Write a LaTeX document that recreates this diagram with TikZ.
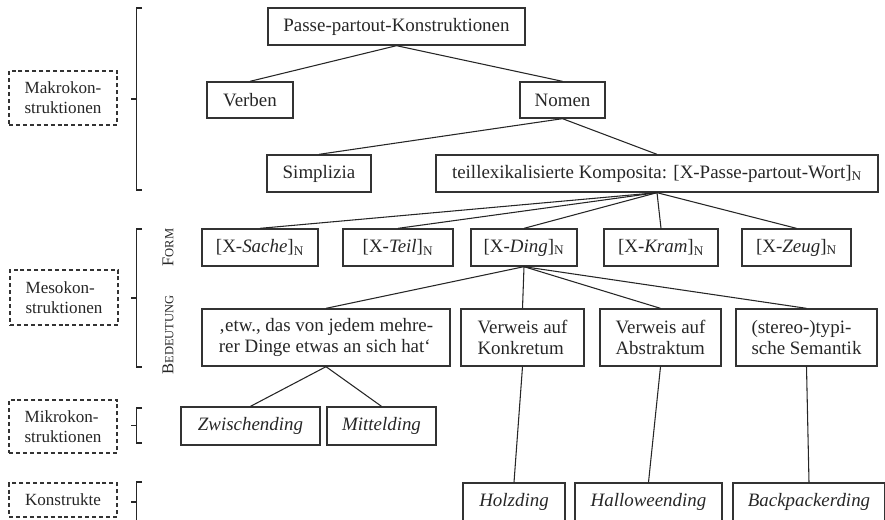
\documentclass[tikz,border=0pt]{standalone}
\usepackage{fontspec}
\setmainfont{Liberation Serif}
\newcommand{\fakesc}[2]{#1{\fontsize{9.4}{10}\selectfont #2}}

\begin{document}
\begin{tikzpicture}[x=0.75pt,y=-0.75pt,
  every node/.style={text=black!85},
  sz/.style 2 args={minimum width=#1*0.75pt,minimum height=#2*0.75pt},
  box/.style={draw=black!80,line width=1pt,inner sep=0pt,align=left,
    font=\fontsize{14.2}{15.5}\selectfont},
  levelbox/.style={draw=black!80,line width=0.9pt,dash pattern=on 3pt off 2.2pt,
    inner sep=0pt,align=left,font=\fontsize{12.8}{15}\selectfont},
  edge/.style={draw=black!85,line width=0.8pt},
  bracket/.style={draw=black!85,line width=0.8pt}]
  \useasboundingbox (0,0) rectangle (885,519);

  % Ebenen links
  \node[levelbox,sz={108}{54}] (makro) at (63,98) {Makrokon-\\struktionen};
  \node[levelbox,sz={108}{55}] (meso) at (64,297.5) {Mesokon-\\struktionen};
  \node[levelbox,sz={108}{53}] (mikro) at (63,426.5) {Mikrokon-\\struktionen};
  \node[levelbox,sz={108}{34}] (konstr) at (63,500) {Konstrukte};
  \foreach \t/\b in {8/190,229/367,408/443,482/522}{
    \draw[bracket] (142,\t) -- (136.5,\t) -- (136.5,\b) -- (142,\b);
    \draw[bracket,line width=1.3pt] (131,{(\t+\b)/2}) -- (136.5,{(\t+\b)/2});
  }
  \node[rotate=90,font=\fontsize{12.4}{14}\selectfont] (form) at (168,247.5) {\fakesc{F}{ORM}};
  \node[rotate=90,font=\fontsize{12.4}{14}\selectfont] (bed) at (168,335) {\fakesc{B}{EDEUTUNG}};

  % Makro
  \node[box,sz={257}{37}] (pp) at (396.5,26.5) {Passe-partout-Konstruktionen};
  \node[box,sz={86}{36}] (verben) at (250,100) {Verben};
  \node[box,sz={85}{36}] (nomen) at (562.5,100) {Nomen};
  \node[box,sz={104}{37}] (simpl) at (319,173.5) {Simplizia};
  \node[box,sz={442}{37}] (komp) at (657,173.5) {teillexikalisierte Komposita: [X-Passe-partout-Wort]\textsubscript{N}};

  % Meso: Form
  \node[box,sz={116}{37}] (sache) at (260,247.5) {[X-\textit{Sache}]\textsubscript{N}};
  \node[box,sz={110}{37}] (teil) at (398,247.5) {[X-\textit{Teil}]\textsubscript{N}};
  \node[box,sz={106}{37}] (ding) at (524,247.5) {[X-\textit{Ding}]\textsubscript{N}};
  \node[box,sz={114}{37}] (kram) at (661,247.5) {[X-\textit{Kram}]\textsubscript{N}};
  \node[box,sz={109}{37}] (zeug) at (796.5,247.5) {[X-\textit{Zeug}]\textsubscript{N}};

  % Meso: Bedeutung
  \node[box,sz={248}{57}] (etw) at (326,337.5) {‚etw., das von jedem mehre-\\rer Dinge etwas an sich hat‘};
  \node[box,sz={123}{57}] (konk) at (522.5,337.5) {Verweis auf\\Konkretum};
  \node[box,sz={121}{57}] (abst) at (660.5,337.5) {Verweis auf\\Abstraktum};
  \node[box,sz={141}{57}] (stereo) at (806.5,337.5) {(stereo-)typi-\\sche Semantik};

  % Mikro und Konstrukte
  \node[box,sz={139}{38}] (zwisch) at (250.5,426) {\textit{Zwischending}};
  \node[box,sz={109}{38}] (mittel) at (381.5,426) {\textit{Mittelding}};
  \node[box,sz={102}{38}] (holz) at (514,502) {\textit{Holzding}};
  \node[box,sz={147}{38}] (hallo) at (648.5,502) {\textit{Halloweending}};
  \node[box,sz={152}{38}] (back) at (809,502) {\textit{Backpackerding}};

  \draw[edge] (pp.south) -- (verben.north);
  \draw[edge] (pp.south) -- (nomen.north);
  \draw[edge] (nomen.south) -- (simpl.north);
  \draw[edge] (nomen.south) -- (komp.north);
  \foreach \n in {sache,teil,ding,kram,zeug}
    \draw[edge] (komp.south) -- (\n.north);
  \foreach \n in {etw,konk,abst,stereo}
    \draw[edge] (ding.south) -- (\n.north);
  \draw[edge] (etw.south) -- (zwisch.north);
  \draw[edge] (etw.south) -- (mittel.north);
  \draw[edge] (konk.south) -- (holz.north);
  \draw[edge] (abst.south) -- (hallo.north);
  \draw[edge] (stereo.south) -- (back.north);
\end{tikzpicture}
\end{document}
